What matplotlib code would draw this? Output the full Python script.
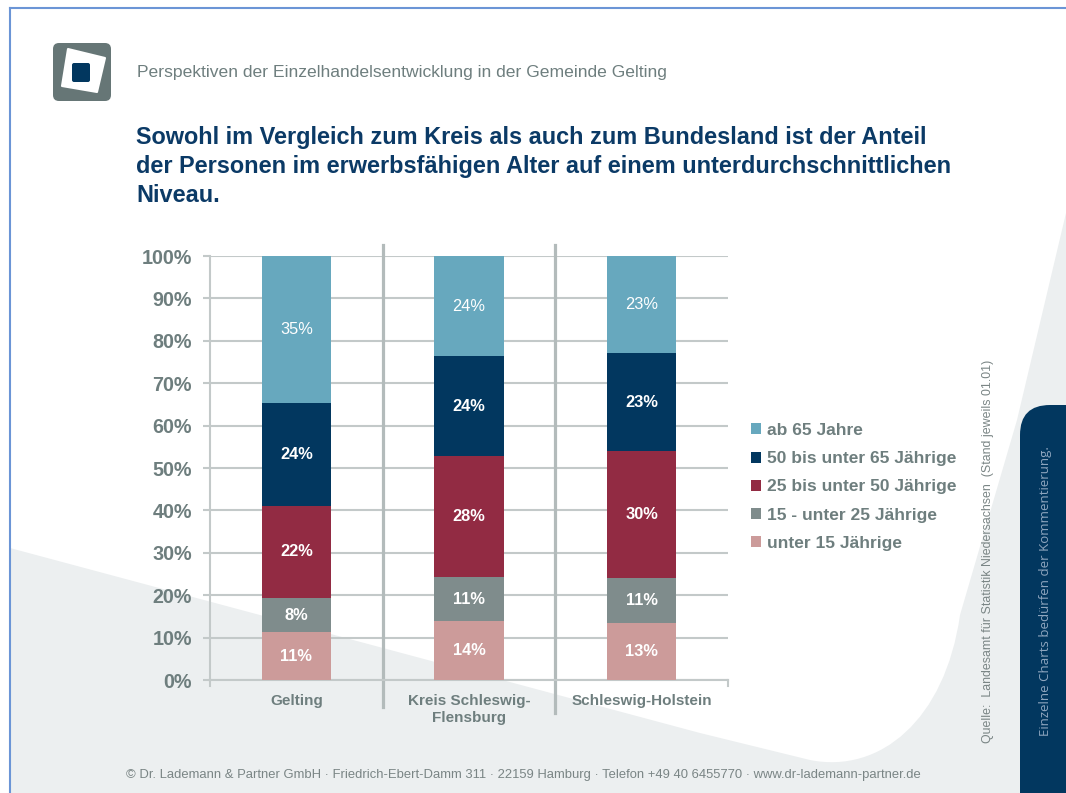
import matplotlib
matplotlib.use("Agg")
import matplotlib.pyplot as plt
import numpy as np
from matplotlib.patches import FancyBboxPatch, Polygon, PathPatch, Patch
from matplotlib.path import Path
import matplotlib.transforms as mtransforms

# data
categories = ["Gelting", "Kreis Schleswig-\nFlensburg", "Schleswig-Holstein"]
series_names = ["unter 15 Jährige", "15 - unter 25 Jährige", "25 bis unter 50 Jährige",
                "50 bis unter 65 Jährige", "ab 65 Jahre"]
unter15 = [11.3, 13.8, 13.4]
u15_25 = [8.0, 10.6, 10.7]
u25_50 = [21.8, 28.4, 29.9]
u50_65 = [24.3, 23.6, 23.1]
ab65 = [34.6, 23.6, 22.9]
yticks = [0, 10, 20, 30, 40, 50, 60, 70, 80, 90, 100]

colors = ["#cc9b9a", "#7f8c8c", "#922b43", "#02375f", "#67a8be"]
gray_txt = "#6e7e7e"
navy = "#02375f"
grid_c = "#c3c9c9"

plt.rcParams["font.family"] = ["Liberation Sans", "DejaVu Sans"]

W, H = 1066, 793
fig = plt.figure(figsize=(W / 100, H / 100), dpi=100)

# background / decoration layer in pixel coordinates
bg = fig.add_axes([0, 0, 1, 1], zorder=0)
bg.set_xlim(0, W)
bg.set_ylim(H, 0)
bg.axis("off")

verts = [(10, 548), (700, 733), (810, 760),
         (880, 774), (945, 720), (960, 615),
         (1017, 420), (1066, 213), (1066, 793), (10, 793), (10, 548)]
codes = [Path.MOVETO, Path.LINETO, Path.LINETO,
         Path.CURVE4, Path.CURVE4, Path.CURVE4,
         Path.LINETO, Path.LINETO, Path.LINETO, Path.LINETO, Path.CLOSEPOLY]
bg.add_patch(PathPatch(Path(verts, codes), facecolor="#eceff0", edgecolor="none"))

# frame lines
bg.plot([10, W], [8, 8], color="#6b95d6", lw=1.5)
bg.plot([10, 10], [8, H], color="#6b95d6", lw=1.5)

# right tab
bg.add_patch(FancyBboxPatch((1020, 405), 120, 450,
                            boxstyle="round,pad=0,rounding_size=30",
                            facecolor=navy, edgecolor="none"))
bg.text(1046, 591, "Einzelne Charts bedürfen der Kommentierung.", rotation=90,
        ha="center", va="center", color="#8fa6bf", fontsize=9.5,
        family=["Open Sans", "DejaVu Sans"])
bg.text(988, 551, "Quelle:  Landesamt für Statistik Niedersachsen  (Stand jeweils 01.01)",
        rotation=90, ha="center", va="center", color="#7a8585", fontsize=8.9)

# logo
bg.add_patch(FancyBboxPatch((53, 43), 58, 58, boxstyle="round,pad=0,rounding_size=6",
                            facecolor="#667676", edgecolor="none"))
bg.add_patch(Polygon([(68, 49), (105, 58), (97, 92), (62, 86)], closed=True,
                     facecolor="white", edgecolor="white", lw=1.5, joinstyle="round"))
bg.add_patch(FancyBboxPatch((72, 63), 18, 19, boxstyle="round,pad=0,rounding_size=2",
                            facecolor=navy, edgecolor="none"))

bg.text(137, 73, "Perspektiven der Einzelhandelsentwicklung in der Gemeinde Gelting",
        ha="left", va="center", color=gray_txt, fontsize=12.6)
bg.text(136, 126, "Sowohl im Vergleich zum Kreis als auch zum Bundesland ist der Anteil\n"
        "der Personen im erwerbsfähigen Alter auf einem unterdurchschnittlichen\nNiveau.",
        ha="left", va="top", color="#0b3a66", fontsize=16.9, fontweight="bold",
        linespacing=1.33)
bg.text(523, 775, "© Dr. Lademann & Partner GmbH · Friedrich-Ebert-Damm 311 · 22159 Hamburg · "
        "Telefon +49 40 6455770 · www.dr-lademann-partner.de",
        ha="center", va="center", color="#7a8585", fontsize=9.4)

# chart
ax = fig.add_axes([210 / W, 1 - 680 / H, 518 / W, 424 / H], zorder=2)
ax.patch.set_alpha(0)
x = np.arange(len(categories))
bottom = np.zeros(len(categories))
stack = [unter15, u15_25, u25_50, u50_65, ab65]
for i, vals in enumerate(stack):
    vals = np.array(vals)
    ax.bar(x, vals, 0.4, bottom=bottom, color=colors[i], label=series_names[i], zorder=3)
    for xi, b, v in zip(x, bottom, vals):
        ax.text(xi, b + v / 2, f"{v:.0f}%", ha="center", va="center", color="white",
                fontsize=11.8, fontweight="normal" if i == 4 else "bold", zorder=4)
    bottom += vals

ax.set_xlim(-0.5, 2.5)
ax.set_ylim(0, 100)
ax.set_yticks(yticks)
ax.set_yticklabels([f"{t}%" for t in yticks], fontsize=14.2, fontweight="bold", color=gray_txt)
ax.grid(axis="y", color=grid_c, lw=1.5, zorder=1)
ax.tick_params(axis="y", length=5, width=1.5, color=grid_c, pad=8)
ax.set_xticks(x)
ax.set_xticklabels(categories, fontsize=11, fontweight="bold", color=gray_txt, linespacing=1.3)
ax.tick_params(axis="x", length=0, pad=10)
for s in ["top", "right"]:
    ax.spines[s].set_visible(False)
ax.spines["left"].set_color(grid_c)
ax.spines["left"].set_linewidth(1.5)
ax.spines["bottom"].set_color(grid_c)
ax.spines["bottom"].set_linewidth(1.5)

trans = mtransforms.blended_transform_factory(ax.transData, ax.transAxes)
for xb, yb in [(0.5, -0.064), (1.5, -0.078)]:
    ax.plot([xb, xb], [yb, 1.025], transform=trans, color="#b3bbbb", lw=2.3,
            clip_on=False, zorder=2)
for xb in [-0.5, 2.5]:
    ax.plot([xb, xb], [-0.015, 0], transform=trans, color=grid_c, lw=1.5,
            clip_on=False, zorder=2)

handles = [Patch(facecolor=colors[i], edgecolor="none") for i in range(4, -1, -1)]
labels = [series_names[i] for i in range(4, -1, -1)]
leg = fig.legend(handles, labels, loc="upper left", bbox_to_anchor=(751 / W, 1 - 423 / H),
                 frameon=False, handlelength=0.6, handleheight=0.6, handletextpad=0.35,
                 labelspacing=0.76, borderaxespad=0, borderpad=0,
                 prop={"size": 12.5, "weight": "bold"})
for t in leg.get_texts():
    t.set_color(gray_txt)

fig.savefig("out.png", dpi=100)
